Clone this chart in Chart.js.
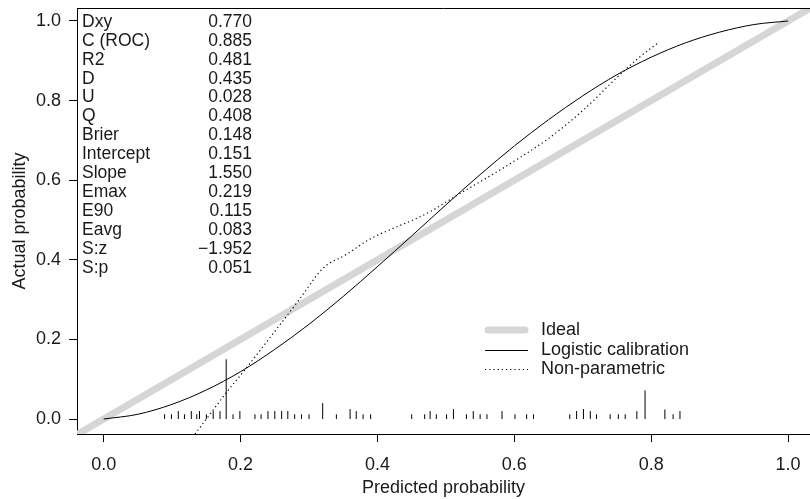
<!DOCTYPE html>
<html>
<head>
<meta charset="utf-8">
<script src="https://cdn.jsdelivr.net/npm/chart.js@4.4.1/dist/chart.umd.min.js"></script>
<style>
html,body{margin:0;padding:0;background:#fff;}
#wrap{width:810px;height:499px;}
</style>
</head>
<body>
<div id="wrap"><canvas id="c" width="810" height="499"></canvas></div>
<script>
// ---- data ----
const xTickValues = [0, 0.2, 0.4, 0.6, 0.8, 1.0];
const yTickValues = [0, 0.2, 0.4, 0.6, 0.8, 1.0];

const statNames  = ["Dxy","C (ROC)","R2","D","U","Q","Brier","Intercept","Slope","Emax","E90","Eavg","S:z","S:p"];
const statValues = ["0.770","0.885","0.481","0.435","0.028","0.408","0.148","0.151","1.550","0.219","0.115","0.083","\u22121.952","0.051"];

const legendLabels = ["Ideal","Logistic calibration","Non-parametric"];

const idealX = [-0.05, 1.05];
const idealY = [-0.05, 1.05];

const logisticX = [0,0.05,0.10,0.15,0.20,0.25,0.30,0.35,0.40,0.45,0.50,0.55,0.60,0.65,0.70,0.75,0.80,0.85,0.90,0.95,1.00];
const logisticY = [0,0.012,0.037,0.073,0.119,0.175,0.238,0.308,0.383,0.460,0.538,0.614,0.686,0.752,0.812,0.865,0.909,0.945,0.972,0.991,1.000];

const nonparX = [0.115,0.150,0.180,0.206,0.250,0.287,0.320,0.355,0.389,0.423,0.452,0.477,0.501,0.525,0.550,0.600,0.650,0.700,0.750,0.780,0.810];
const nonparY = [-0.080,0.000,0.068,0.123,0.220,0.303,0.378,0.414,0.452,0.479,0.500,0.521,0.546,0.571,0.596,0.648,0.705,0.775,0.858,0.905,0.945];

const rugX = [0.089,0.099,0.109,0.118,0.128,0.136,0.140,0.150,0.160,0.170,0.179,0.189,0.199,0.221,0.230,0.240,0.250,0.260,0.269,0.279,0.289,0.300,0.320,0.340,0.360,0.369,0.379,0.390,0.450,0.469,0.477,0.486,0.501,0.511,0.530,0.540,0.550,0.560,0.582,0.601,0.618,0.628,0.681,0.691,0.701,0.711,0.720,0.740,0.752,0.762,0.779,0.791,0.820,0.832,0.842];
const rugH = [0.012,0.012,0.020,0.012,0.020,0.012,0.020,0.012,0.020,0.020,0.150,0.012,0.020,0.012,0.012,0.020,0.020,0.020,0.020,0.012,0.012,0.012,0.040,0.012,0.025,0.020,0.012,0.012,0.012,0.012,0.020,0.012,0.012,0.025,0.012,0.020,0.012,0.012,0.020,0.012,0.012,0.012,0.012,0.020,0.025,0.020,0.012,0.012,0.012,0.012,0.020,0.072,0.024,0.012,0.020];

// ---- build datasets ----
const pts = (xs, ys) => xs.map((x, i) => ({x: x, y: ys[i]}));
const rugPts = [];
rugX.forEach((x, i) => { rugPts.push({x: x, y: 0}); rugPts.push({x: x, y: rugH[i]}); rugPts.push({x: x, y: null}); });

const FONT = "'Liberation Sans', Arial, Helvetica, sans-serif";
const TXT = '#1a1a1a';

const decor = {
  id: 'decor',
  afterDraw(chart) {
    const ctx = chart.ctx, a = chart.chartArea;
    ctx.save();
    // top border
    ctx.strokeStyle = '#000'; ctx.lineWidth = 1;
    ctx.beginPath(); ctx.moveTo(a.left, a.top + 0.5); ctx.lineTo(a.right, a.top + 0.5); ctx.stroke();
    // stats
    ctx.fillStyle = TXT;
    ctx.font = "17.5px " + FONT;
    ctx.textBaseline = 'middle';
    statNames.forEach((n, i) => {
      const y = 22 + i * 18.9;
      ctx.textAlign = 'left'; ctx.fillText(n, 82, y);
      ctx.textAlign = 'right'; ctx.fillText(statValues[i], 252, y);
    });
    // legend
    const ly = [330, 350, 369];
    ctx.font = "18px " + FONT;
    ctx.textAlign = 'left';
    ctx.strokeStyle = '#d6d6d6'; ctx.lineWidth = 7; ctx.lineCap = 'round';
    ctx.beginPath(); ctx.moveTo(488, ly[0]); ctx.lineTo(525, ly[0]); ctx.stroke();
    ctx.lineCap = 'butt';
    ctx.strokeStyle = '#000'; ctx.lineWidth = 1;
    ctx.beginPath(); ctx.moveTo(485, ly[1] + 0.5); ctx.lineTo(528, ly[1] + 0.5); ctx.stroke();
    ctx.setLineDash([1.2, 3]);
    ctx.beginPath(); ctx.moveTo(485, ly[2] + 0.5); ctx.lineTo(528, ly[2] + 0.5); ctx.stroke();
    ctx.setLineDash([]);
    legendLabels.forEach((t, i) => ctx.fillText(t, 541, ly[i]));
    ctx.restore();
  }
};

const zeroPad = s => { s.paddingTop = 0; s.paddingBottom = 0; s.paddingLeft = 0; s.paddingRight = 0; };

new Chart(document.getElementById('c'), {
  type: 'scatter',
  data: {
    datasets: [
      {label: 'Ideal', data: pts(idealX, idealY), showLine: true, borderColor: '#d6d6d6', borderWidth: 7, pointRadius: 0, order: 4},
      {label: 'Logistic calibration', data: pts(logisticX, logisticY), showLine: true, borderColor: '#000', borderWidth: 1, pointRadius: 0, cubicInterpolationMode: 'monotone', order: 3},
      {label: 'Non-parametric', data: pts(nonparX, nonparY), showLine: true, borderColor: '#000', borderWidth: 1.2, borderDash: [1.2, 3], pointRadius: 0, cubicInterpolationMode: 'monotone', order: 2},
      {label: 'rug', data: rugPts, showLine: true, spanGaps: false, borderColor: '#000', borderWidth: 1, pointRadius: 0, order: 1}
    ]
  },
  options: {
    responsive: false,
    animation: false,
    devicePixelRatio: 1,
    layout: {padding: {top: 8, right: 0, left: 0, bottom: 0}},
    plugins: {legend: {display: false}, tooltip: {enabled: false}},
    scales: {
      x: {
        type: 'linear', min: -0.039, max: 1.032,
        afterBuildTicks: s => { s.ticks = xTickValues.map(v => ({value: v})); },
        afterFit: s => { s.height = 65; zeroPad(s); },
        grid: {display: true, drawOnChartArea: false, drawTicks: true, tickLength: 8, color: '#000'},
        border: {display: true, color: '#000', width: 1},
        ticks: {color: TXT, font: {family: FONT, size: 18}, padding: 12, maxRotation: 0, callback: v => v.toFixed(1)},
        title: {display: true, text: 'Predicted probability', color: TXT, font: {family: FONT, size: 18}, padding: {top: 0, bottom: 0}}
      },
      y: {
        type: 'linear', min: -0.0376, max: 1.0326,
        afterBuildTicks: s => { s.ticks = yTickValues.map(v => ({value: v})); },
        afterFit: s => { s.width = 77; zeroPad(s); },
        grid: {display: true, drawOnChartArea: false, drawTicks: true, tickLength: 8, color: '#000'},
        border: {display: true, color: '#000', width: 1},
        ticks: {color: TXT, font: {family: FONT, size: 18}, padding: 8, callback: v => v.toFixed(1)},
        title: {display: true, text: 'Actual probability', color: TXT, font: {family: FONT, size: 18}, padding: {top: 9, bottom: 0}}
      }
    }
  },
  plugins: [decor]
});
</script>
</body>
</html>
